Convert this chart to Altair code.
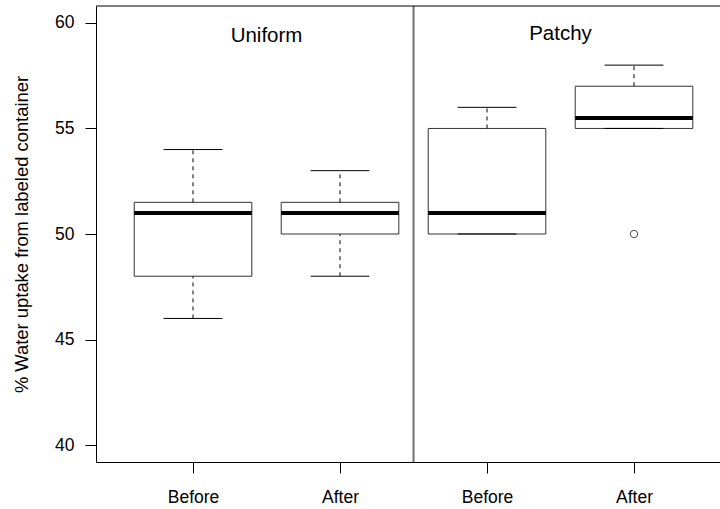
import json
import altair as alt
import pandas as pd

# Five-number summaries for each treatment, in plotting order
treatment = ["Before", "After", "Before", "After"]
layout = ["Uniform", "Uniform", "Patchy", "Patchy"]
whisker_low = [46, 48, 50, 55]
quart_low = [48, 50, 50, 55]
medians = [51, 51, 51, 55.5]
quart_high = [51.5, 51.5, 55, 57]
whisker_high = [54, 53, 56, 58]

# Points beyond the whiskers (group number, value)
outlier_group = [4]
outlier_value = [50]

# Panel headings and where they sit in data units
panel_names = ["Uniform", "Patchy"]
panel_x = [1.5, 3.5]
panel_y = [59.1, 59.2]

BOX_HALF = 0.4
CAP_HALF = 0.2
PLOT_W = 624
PLOT_H = 456

pos = list(range(1, len(treatment) + 1))
boxes = pd.DataFrame({
    "pos": pos,
    "treatment": treatment,
    "layout": layout,
    "low": whisker_low,
    "q1": quart_low,
    "med": medians,
    "q3": quart_high,
    "high": whisker_high,
})
boxes["left"] = boxes["pos"] - BOX_HALF
boxes["right"] = boxes["pos"] + BOX_HALF
boxes["cap_l"] = boxes["pos"] - CAP_HALF
boxes["cap_r"] = boxes["pos"] + CAP_HALF

outliers = pd.DataFrame({"pos": outlier_group, "value": outlier_value})
panels = pd.DataFrame({"name": panel_names, "x": panel_x, "y": panel_y})
divider = pd.DataFrame({"x": [2.5]})

xscale = alt.Scale(domain=[0.34, 4.585], nice=False, zero=False)
yscale = alt.Scale(domain=[39.2, 60.8], nice=False, zero=False)

label_expr = "%s[datum.value - 1]" % json.dumps(treatment)

x_axis = alt.Axis(
    values=pos, labelExpr=label_expr, title=None, grid=False,
    tickSize=11, labelPadding=15, domainColor="black", tickColor="black",
)
y_axis = alt.Axis(
    values=[40, 45, 50, 55, 60], title="% Water uptake from labeled container",
    grid=False, tickSize=11, labelPadding=11, domainColor="black",
    tickColor="black", titleX=-75, titleY=PLOT_H / 2, titleAngle=270,
    titleBaseline="middle", titleAlign="center", titleFontSize=18.4,
)

base = alt.Chart(boxes)

box = base.mark_rect(fill="white", stroke="#333333", strokeWidth=1).encode(
    x=alt.X("left:Q", scale=xscale, axis=x_axis),
    x2="right:Q",
    y=alt.Y("q1:Q", scale=yscale, axis=y_axis),
    y2="q3:Q",
)

whisk_up = base.mark_rule(color="black", strokeWidth=1, strokeDash=[4, 4]).encode(
    x="pos:Q", y="q3:Q", y2="high:Q"
)
whisk_down = base.mark_rule(color="black", strokeWidth=1, strokeDash=[4, 4]).encode(
    x="pos:Q", y="low:Q", y2="q1:Q"
)
cap_up = base.mark_rule(color="black", strokeWidth=1).encode(
    x="cap_l:Q", x2="cap_r:Q", y="high:Q"
)
cap_down = base.mark_rule(color="black", strokeWidth=1).encode(
    x="cap_l:Q", x2="cap_r:Q", y="low:Q"
)
median = base.mark_rule(color="black", strokeWidth=4).encode(
    x="left:Q", x2="right:Q", y="med:Q"
)

outlier_pts = alt.Chart(outliers).mark_point(
    shape="circle", size=55, filled=False, color="black", strokeWidth=1
).encode(x="pos:Q", y="value:Q")

# Vertical separator between the two layouts
sep = alt.Chart(divider).mark_rule(color="#707070", strokeWidth=2).encode(
    x="x:Q",
    y=alt.value(0),
    y2=alt.value(PLOT_H),
)

# Top edge of the plot frame
frame_top = alt.Chart(divider).mark_rule(color="black", strokeWidth=1).encode(
    x=alt.value(0),
    x2=alt.value(PLOT_W),
    y=alt.value(0),
)

heads = alt.Chart(panels).mark_text(
    fontSize=20.5, font="Liberation Sans", baseline="alphabetic", align="center",
    color="black",
).encode(x="x:Q", y="y:Q", text="name:N")

chart = alt.layer(
    box, whisk_up, whisk_down, cap_up, cap_down, median, outlier_pts, sep,
    frame_top, heads
).properties(
    width=PLOT_W,
    height=PLOT_H,
    autosize=alt.AutoSizeParams(type="none"),
    padding={"left": 96, "top": 6, "right": 0, "bottom": 47},
).configure_view(stroke=None).configure_axis(
    labelFont="Liberation Sans", titleFont="Liberation Sans",
    labelFontSize=17.5, labelColor="black",
    titleColor="black", titleFontWeight="normal", domainWidth=1, tickWidth=1,
)

chart.save("out.html", embed_options={"renderer": "svg", "actions": False})
